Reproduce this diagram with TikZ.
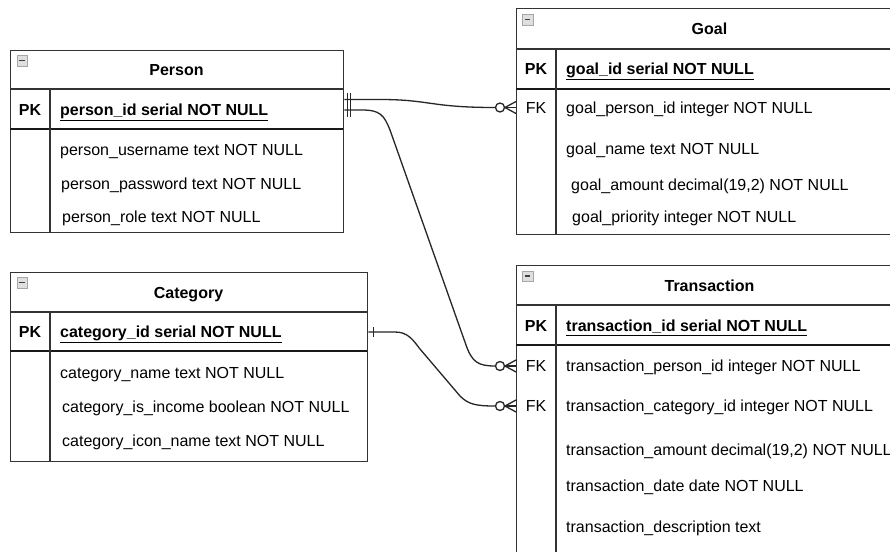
\documentclass[tikz,border=0pt]{standalone}
\usepackage{fontspec}
\setmainfont{Liberation Sans}
\newcommand{\fldfont}{\fontsize{16}{19}\selectfont}
\begin{document}
\begin{tikzpicture}[x=1pt,y=-1pt,
  tbl/.style={draw=black!80, line width=1.3pt, anchor=north west, inner sep=0pt},
  rule/.style={draw=black!80, line width=1.3pt},
  pkrule/.style={draw=black!90, line width=1.7pt},
  fld/.style={anchor=base west, inner sep=0pt, font=\fldfont},
  key/.style={anchor=base, inner sep=0pt, font=\fldfont},
  ttl/.style={anchor=base, inner sep=0pt, font=\fldfont\bfseries},
  link/.style={draw=black!85, line width=1.3pt},
  minus/.style={draw=gray!70, fill=gray!25, line width=0.9pt, minimum size=10.5pt, inner sep=0pt, anchor=north west}
]
\useasboundingbox (0,0) rectangle (890,551);
\clip (0,0) rectangle (890,551);
\fill[white] (0,0) rectangle (890,551);

% ---------- Person ----------
\node[tbl, minimum width=333pt, minimum height=182pt] (person) at (10,50) {};
\draw[rule] (10,89) -- (343,89);
\draw[pkrule] (10,129) -- (343,129);
\draw[rule] (50,89) -- (50,232);
\node[minus] (personicon) at (16.5,55) {};
\draw[black!75, line width=1.5pt] (19,60.25) -- (24.5,60.25);
\node[ttl] (persontitle) at (176.5,75.5) {Person};
\node[key, font=\fldfont\bfseries] (personpk) at (30,115.5) {PK};
\node[fld, font=\fldfont\bfseries] (personid) at (60,115.5) {\underline{person\_id serial NOT NULL}};
\node[fld] (personf1) at (60,155.5) {person\_username text NOT NULL};
\node[fld] (personf2) at (61,189.5) {person\_password text NOT NULL};
\node[fld] (personf3) at (62,222.5) {person\_role text NOT NULL};

% ---------- Category ----------
\node[tbl, minimum width=357pt, minimum height=189pt] (category) at (10,272) {};
\draw[rule] (10,312) -- (367,312);
\draw[pkrule] (10,351) -- (367,351);
\draw[rule] (50,312) -- (50,461);
\node[minus] (categoryicon) at (16.5,277) {};
\draw[black!75, line width=1.5pt] (19,282.25) -- (24.5,282.25);
\node[ttl] (categorytitle) at (188.5,298.5) {Category};
\node[key, font=\fldfont\bfseries] (categorypk) at (30,337.5) {PK};
\node[fld, font=\fldfont\bfseries] (categoryid) at (60,337.5) {\underline{category\_id serial NOT NULL}};
\node[fld] (categoryf1) at (60,378.5) {category\_name text NOT NULL};
\node[fld] (categoryf2) at (62,412.5) {category\_is\_income boolean NOT NULL};
\node[fld] (categoryf3) at (62,446.5) {category\_icon\_name text NOT NULL};

% ---------- Goal ----------
\node[tbl, minimum width=387pt, minimum height=226pt] (goal) at (516,8) {};
\draw[rule] (516,49) -- (903,49);
\draw[pkrule] (516,89) -- (903,89);
\draw[rule] (556,49) -- (556,234);
\node[minus] (goalicon) at (522,14.5) {};
\draw[black!75, line width=1.5pt] (524.5,19.75) -- (530,19.75);
\node[ttl] (goaltitle) at (709.5,34.5) {Goal};
\node[key, font=\fldfont\bfseries] (goalpk) at (536,74.5) {PK};
\node[fld, font=\fldfont\bfseries] (goalid) at (566,74.5) {\underline{goal\_id serial NOT NULL}};
\node[key] (goalfk) at (536,113.5) {FK};
\node[fld] (goalf1) at (566,113.5) {goal\_person\_id integer NOT NULL};
\node[fld] (goalf2) at (566,154.5) {goal\_name text NOT NULL};
\node[fld] (goalf3) at (571,190.5) {goal\_amount decimal(19,2) NOT NULL};
\node[fld] (goalf4) at (572,222.5) {goal\_priority integer NOT NULL};

% ---------- Transaction ----------
\node[tbl, minimum width=387pt, minimum height=300pt] (transaction) at (516,265) {};
\draw[rule] (516,305) -- (903,305);
\draw[pkrule] (516,345) -- (903,345);
\draw[rule] (556,305) -- (556,565);
\node[minus] (transactionicon) at (522,270.5) {};
\draw[black!75, line width=1.5pt] (524.5,275.75) -- (530,275.75);
\node[ttl] (transactiontitle) at (709.5,291.5) {Transaction};
\node[key, font=\fldfont\bfseries] (transactionpk) at (536,331.5) {PK};
\node[fld, font=\fldfont\bfseries] (transactionid) at (566,331.5) {\underline{transaction\_id serial NOT NULL}};
\node[key] (transactionfk1) at (536,371.5) {FK};
\node[key] (transactionfk2) at (536,411.5) {FK};
\node[fld] (transactionf1) at (566,371.5) {transaction\_person\_id integer NOT NULL};
\node[fld] (transactionf2) at (566,411.5) {transaction\_category\_id integer NOT NULL};
\node[fld] (transactionf3) at (566,455.5) {transaction\_amount decimal(19,2) NOT NULL};
\node[fld] (transactionf4) at (566,491.5) {transaction\_date date NOT NULL};
\node[fld] (transactionf5) at (566,532.5) {transaction\_description text};

% ---------- Connector end points ----------
\coordinate (pg) at (person.east |- 0,99.5);
\coordinate (pt) at (person.east |- 0,110);
\coordinate (ct) at (category.east |- 0,332);
\coordinate (gp) at (goal.west |- 0,107.5);
\coordinate (tp) at (transaction.west |- 0,366);
\coordinate (tc) at (transaction.west |- 0,406);

% Person -> Goal
\draw[link] (pg) -- (380,99.5) .. controls (430,99.5) and (430,107.5) .. ([xshift=-21pt]gp);
% Person -> Transaction
\draw[link] (pt) -- (362,110) .. controls (380,110) and (384,115) .. (390,130)
  -- (466,345) .. controls (472,362) and (478,366) .. ([xshift=-21pt]tp);
% Category -> Transaction
\draw[link] (ct) -- (395,332) .. controls (408,332) and (413,340) .. (420,349)
  -- (460,396) .. controls (468,404) and (475,406) .. ([xshift=-21pt]tc);

% one-only bars at the parent side
\foreach \p in {pg,pt} {
  \draw[link] ([xshift=3pt,yshift=-6.5pt]\p) -- ([xshift=3pt,yshift=6.5pt]\p);
  \draw[link] ([xshift=6pt,yshift=-6.5pt]\p) -- ([xshift=6pt,yshift=6.5pt]\p);
}
\draw[link] ([xshift=5pt,yshift=-5pt]ct) -- ([xshift=5pt,yshift=5pt]ct);

% zero-or-many feet at the child side
\foreach \c in {gp,tp,tc} {
  \draw[link, fill=white] ([xshift=-16pt]\c) circle (4.5pt);
  \draw[link] ([xshift=-11pt]\c) -- ([yshift=-6pt]\c);
  \draw[link] ([xshift=-11pt]\c) -- (\c);
  \draw[link] ([xshift=-11pt]\c) -- ([yshift=6pt]\c);
}
\end{tikzpicture}
\end{document}
